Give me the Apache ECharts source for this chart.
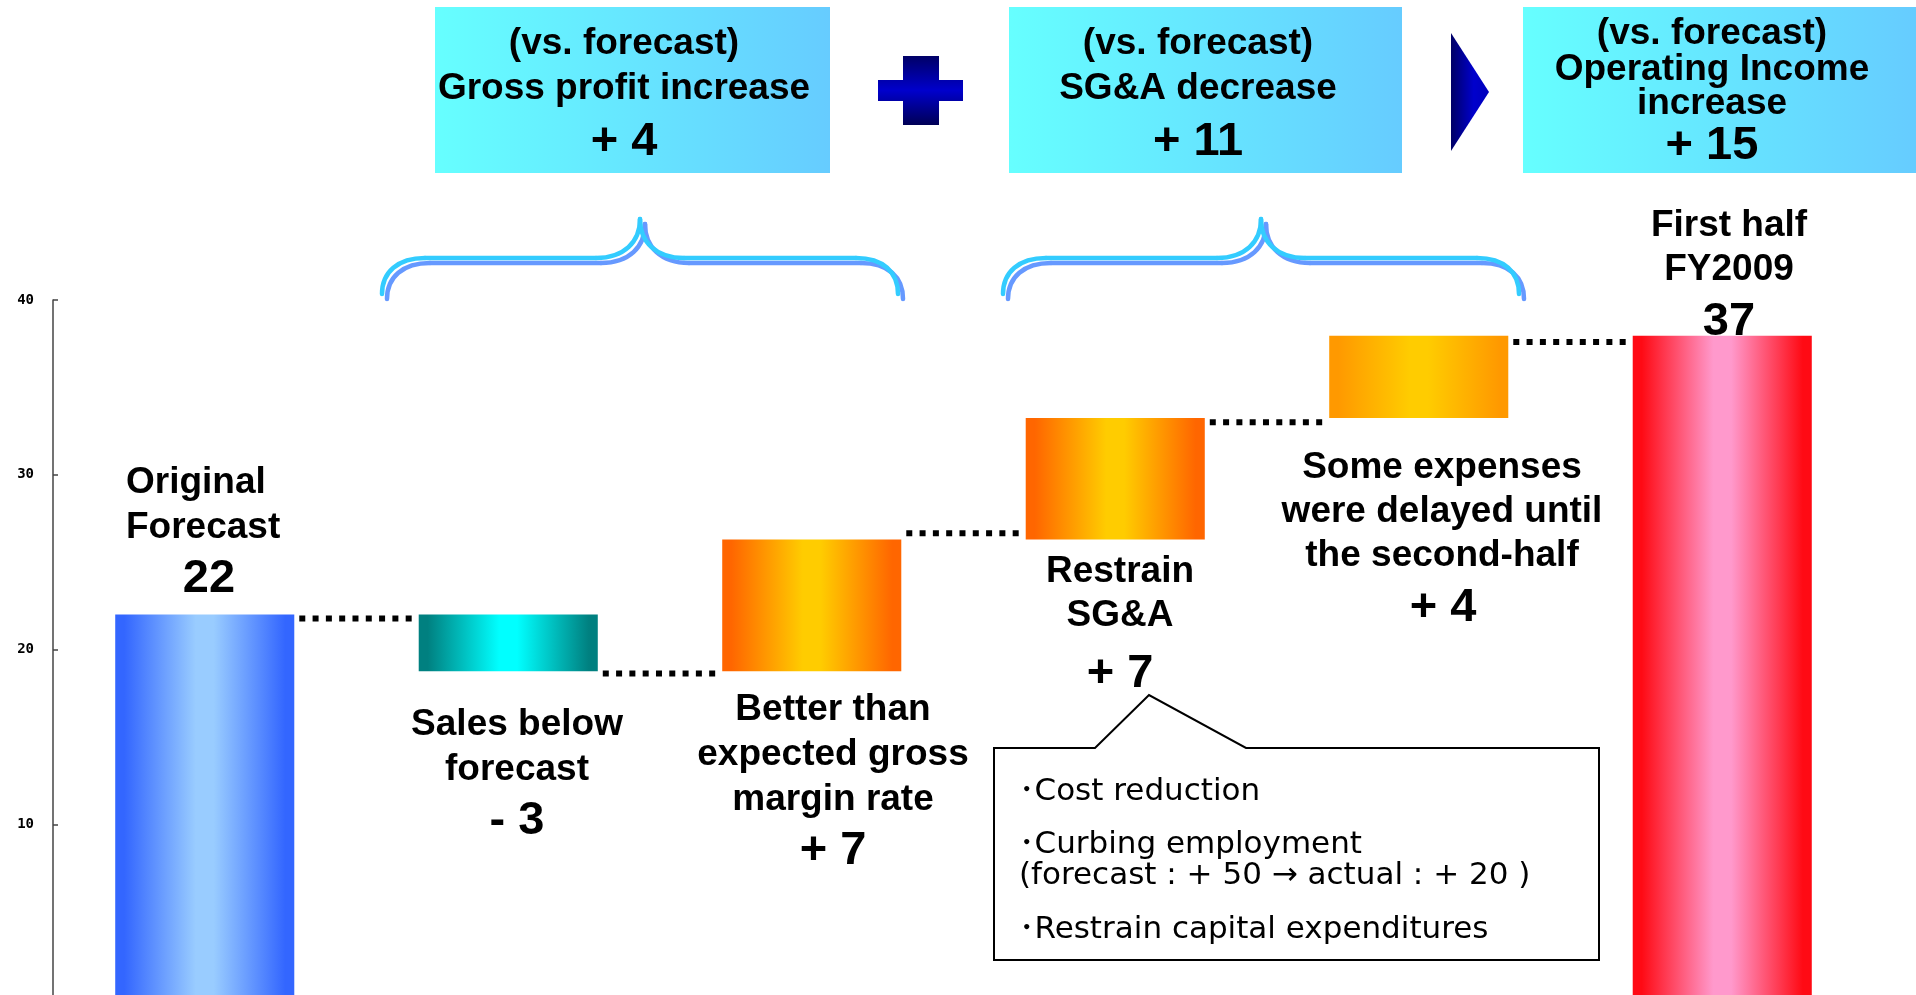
<!DOCTYPE html>
<html>
<head>
<meta charset="utf-8">
<script src="https://cdn.jsdelivr.net/npm/echarts@6/dist/echarts.min.js"></script>
<style>
html,body{margin:0;padding:0;background:#fff;}
#main{width:1916px;height:995px;}
</style>
</head>
<body>
<div id="main"></div>
<script>
// ---------- data ----------
const categories = ['Original Forecast', 'Sales below forecast', 'Better than expected gross margin rate',
  'Restrain SG&A', 'Some expenses were delayed until the second-half', 'First half FY2009'];
const barLow  = [0, 18.75, 18.75, 26.3, 33.25, 0];
const barHigh = [22.0, 22.0, 26.3, 33.25, 37.95, 37.95];
const connectorLevels = [21.77, 18.63, 26.65, 33.0, 37.6];
const yTickValues = [0, 10, 20, 30, 40];
const labelLines = [
  ['Original', 'Forecast'],
  ['Sales below', 'forecast'],
  ['Better than', 'expected gross', 'margin rate'],
  ['Restrain', 'SG&A'],
  ['Some expenses', 'were delayed until', 'the second-half'],
  ['First half', 'FY2009']
];
const valueLabels = ['22', '- 3', '+ 7', '+ 7', '+ 4', '37'];
const summaryTitles = [
  ['(vs. forecast)', 'Gross profit increase'],
  ['(vs. forecast)', 'SG&A decrease'],
  ['(vs. forecast)', 'Operating Income', 'increase']
];
const summaryValues = ['+ 4', '+ 11', '+ 15'];
const calloutLines = ['･Cost reduction', '･Curbing employment', '(forecast : + 50 → actual : + 20 )', '･Restrain capital expenditures'];

// ---------- styles / layout ----------
const palettes = [
  ['#3366ff', '#99ccff'],
  ['#008080', '#00ffff'],
  ['#ff6600', '#ffcc00'],
  ['#ff6600', '#ffcc00'],
  ['#ff9900', '#ffcc00'],
  ['#ff0a14', '#ff99cc']
];
const BAR_RATIO = 0.59;
const FONT = '"Liberation Sans", Arial, Helvetica, sans-serif';
const TXT = 37, NUM = 47, DY = 4;
const labelLayout = [
  {x: 126, align: 'left', ys: [479, 524], vx: 209, vy: 575},
  {x: 517, align: 'center', ys: [721, 766], vx: 517, vy: 817},
  {x: 833, align: 'center', ys: [706, 751, 796], vx: 833, vy: 847},
  {x: 1120, align: 'center', ys: [568, 612], vx: 1120, vy: 670},
  {x: 1442, align: 'center', ys: [464, 508, 552], vx: 1443, vy: 604},
  {x: 1729, align: 'center', ys: [222, 266], vx: 1729, vy: 318}
];
const boxLayout = [
  {x: 435, y: 7, w: 395, h: 166, tx: 624, ys: [40, 85], vy: 138},
  {x: 1009, y: 7, w: 393, h: 166, tx: 1198, ys: [40, 85], vy: 138},
  {x: 1523, y: 7, w: 393, h: 166, tx: 1712, ys: [30, 66, 100], vy: 142}
];

function gradStops(edge, center) {
  return [
    {offset: 0, color: edge}, {offset: 0.05, color: edge},
    {offset: 0.45, color: center}, {offset: 0.55, color: center},
    {offset: 0.95, color: edge}, {offset: 1, color: edge}
  ];
}

function txt(t, x, y, size, align, weight, family) {
  return {
    type: 'text', x: x, y: y, z: 50,
    style: {
      text: t, fill: '#000',
      font: (weight || 'bold') + ' ' + size + 'px ' + (family || FONT),
      textAlign: align || 'center', align: align || 'center',
      textVerticalAlign: 'middle', verticalAlign: 'middle'
    }
  };
}

const graphics = [];

// summary boxes
boxLayout.forEach(function (b, i) {
  graphics.push({
    type: 'rect', z: 10,
    shape: {x: b.x, y: b.y, width: b.w, height: b.h},
    style: {fill: {type: 'linear', x: 0, y: 0, x2: 1, y2: 0, colorStops: [
      {offset: 0, color: '#66ffff'}, {offset: 1, color: '#66ccff'}]}}
  });
  summaryTitles[i].forEach(function (line, k) {
    graphics.push(txt(line, b.tx, b.ys[k] + DY, TXT));
  });
  graphics.push(txt(summaryValues[i], b.tx, b.vy + DY, NUM));
});

// plus sign
graphics.push({
  type: 'polygon', z: 10,
  shape: {points: [[903,56],[939,56],[939,80],[963,80],[963,101],[939,101],[939,125],[903,125],[903,101],[878,101],[878,80],[903,80]]},
  style: {fill: {type: 'linear', x: 0, y: 0, x2: 0, y2: 1, colorStops: [
    {offset: 0, color: '#000066'}, {offset: 0.5, color: '#0000cc'}, {offset: 1, color: '#000055'}]}}
});
// arrow
graphics.push({
  type: 'polygon', z: 10,
  shape: {points: [[1451,33],[1489,92],[1451,151]]},
  style: {fill: {type: 'linear', x: 0, y: 0, x2: 1, y2: 0, colorStops: [
    {offset: 0, color: '#000066'}, {offset: 0.6, color: '#0000cc'}, {offset: 1, color: '#0000bb'}]}}
});

// braces (built from bezier curves and straight lines)
function braceParts(ox, oy, color, z) {
  const st = {fill: null, stroke: color, lineWidth: 4.5, lineCap: 'round'};
  const P = function (x, y) { return [ox + x, oy + y]; };
  const bz = function (a, c1, c2, b) {
    return {type: 'bezierCurve', z: z, shape: {
      x1: P(a[0], a[1])[0], y1: P(a[0], a[1])[1],
      cpx1: P(c1[0], c1[1])[0], cpy1: P(c1[0], c1[1])[1],
      cpx2: P(c2[0], c2[1])[0], cpy2: P(c2[0], c2[1])[1],
      x2: P(b[0], b[1])[0], y2: P(b[0], b[1])[1]}, style: st};
  };
  const ln = function (a, b) {
    return {type: 'line', z: z, shape: {x1: P(a[0], a[1])[0], y1: P(a[0], a[1])[1], x2: P(b[0], b[1])[0], y2: P(b[0], b[1])[1]}, style: st};
  };
  return [
    bz([0, 0], [0, -22], [16, -36], [43, -36]),
    ln([43, -36], [214, -36]),
    bz([214, -36], [242, -36], [258, -52], [258, -75]),
    bz([258, -75], [258, -52], [274, -36], [302, -36]),
    ln([302, -36], [474, -36]),
    bz([474, -36], [501, -36], [516, -22], [516, 0])
  ];
}
[382, 1003].forEach(function (bx) {
  braceParts(bx + 5, 299, '#6699ff', 10).forEach(function (e) { graphics.push(e); });
  braceParts(bx, 294, '#33ccff', 11).forEach(function (e) { graphics.push(e); });
});

// bar labels
labelLines.forEach(function (lines, i) {
  const L = labelLayout[i];
  lines.forEach(function (line, k) {
    graphics.push(txt(line, L.x, L.ys[k] + DY, TXT, L.align));
  });
  graphics.push(txt(valueLabels[i], L.vx, L.vy + DY, NUM));
});

// callout
graphics.push({
  type: 'polygon', z: 20,
  shape: {points: [[994,748],[1095,748],[1149,695],[1246,748],[1599,748],[1599,960],[994,960]]},
  style: {fill: '#fff', stroke: '#000', lineWidth: 2}
});
const calloutYs = [792, 845, 876, 930];
calloutLines.forEach(function (line, k) {
  graphics.push(txt(line, 1019, calloutYs[k], 31, 'left', 'normal', '"DejaVu Sans", "Noto Sans CJK JP", sans-serif'));
});

// ---------- chart ----------
const chart = echarts.init(document.getElementById('main'), null, {renderer: 'canvas'});
chart.setOption({
  animation: false,
  backgroundColor: '#fff',
  grid: {left: 53, right: 42, top: 300, height: 699, containLabel: false, outerBoundsMode: 'none'},
  xAxis: {
    type: 'category', data: categories,
    axisLine: {show: false}, axisTick: {show: false}, axisLabel: {show: false}, splitLine: {show: false}
  },
  yAxis: {
    type: 'value', min: yTickValues[0], max: yTickValues[yTickValues.length - 1], interval: 10,
    splitLine: {show: false},
    axisLine: {show: true, lineStyle: {color: '#444', width: 1.5}},
    axisTick: {show: true, inside: true, length: 5, lineStyle: {color: '#444', width: 1.5}},
    axisLabel: {margin: 19, color: '#000', fontSize: 14, fontWeight: 'bold', showMinLabel: false,
      fontFamily: '"DejaVu Sans Mono", monospace'}
  },
  series: [
    {
      type: 'custom', name: 'bars', z: 2,
      data: categories.map(function (c, i) { return [i, barLow[i], barHigh[i]]; }),
      encode: {x: 0, y: [1, 2]},
      renderItem: function (params, api) {
        const i = api.value(0);
        const lo = api.coord([i, api.value(1)]);
        const hi = api.coord([i, api.value(2)]);
        const w = api.size([1, 0])[0] * BAR_RATIO;
        const p = palettes[i];
        return {
          type: 'rect',
          shape: {x: lo[0] - w / 2, y: hi[1], width: w, height: lo[1] - hi[1]},
          style: {fill: {type: 'linear', x: 0, y: 0, x2: 1, y2: 0, colorStops: gradStops(p[0], p[1])}}
        };
      }
    },
    {
      type: 'custom', name: 'connectors', z: 3,
      data: connectorLevels.map(function (v, i) { return [i, v]; }),
      encode: {x: 0, y: 1},
      renderItem: function (params, api) {
        const i = api.value(0);
        const a = api.coord([i, api.value(1)]);
        const b = api.coord([i + 1, api.value(1)]);
        const w = api.size([1, 0])[0] * BAR_RATIO;
        return {
          type: 'line',
          shape: {x1: a[0] + w / 2 + 5, y1: a[1], x2: b[0] - w / 2 - 2, y2: a[1]},
          style: {stroke: '#000', lineWidth: 6, lineDash: [6, 7.3], lineCap: 'butt'}
        };
      }
    }
  ],
  graphic: {elements: graphics}
});
</script>
</body>
</html>
